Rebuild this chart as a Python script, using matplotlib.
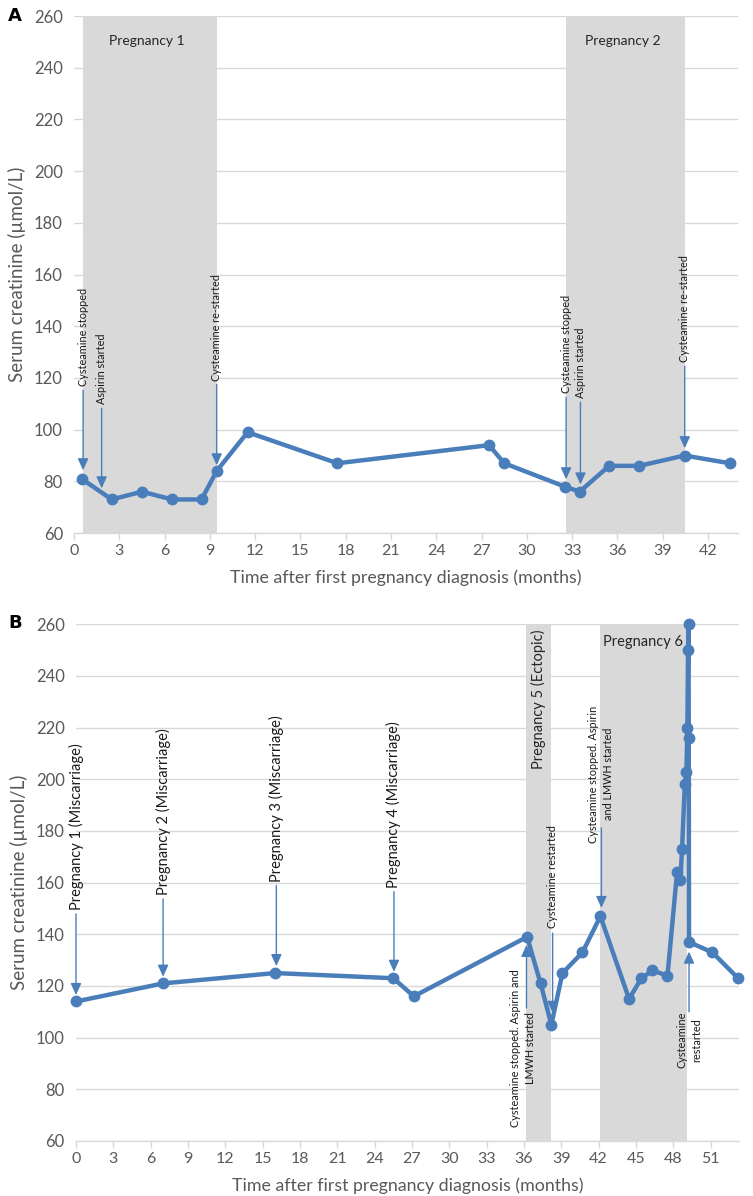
import matplotlib
matplotlib.use("Agg")
import matplotlib.pyplot as plt

plt.rcParams['font.family'] = ['Lato', 'DejaVu Sans']

# ---------------- data ----------------
# Panel A
a_months = [0.5, 2.5, 4.5, 6.5, 8.45, 9.45, 11.5, 17.45, 27.5, 28.5, 32.5, 33.5, 35.45, 37.45, 40.45, 43.45]
a_creat = [81, 73, 76, 73, 73, 84, 99, 87, 94, 87, 78, 76, 86, 86, 90, 87]
a_preg_spans = [(0.6, 9.5), (32.6, 40.5)]
a_preg_labels = ["Pregnancy 1", "Pregnancy 2"]
a_events = ["Cysteamine stopped", "Aspirin started", "Cysteamine re-started",
            "Cysteamine stopped", "Aspirin started", "Cysteamine re-started"]
a_event_x = [0.6, 1.83, 9.45, 32.6, 33.55, 40.46]
a_event_text_y = [116.8, 109.8, 119.0, 114.0, 112.1, 126.0]
a_event_tip_y = [84.3, 77.3, 86.2, 80.8, 78.8, 92.8]
a_xticks = list(range(0, 43, 3))

# Panel B
b_months = [0, 7.0, 16.0, 25.5, 27.15, 36.25, 37.33, 38.2, 39.09, 40.7, 42.14, 44.44, 45.44, 46.32, 47.53,
            48.3, 48.57, 48.7, 48.92, 49.05, 49.13, 49.18, 49.22, 49.24, 49.26, 51.14, 53.2]
b_creat = [114, 121, 125, 123, 116, 139, 121, 105, 125, 133, 147, 115, 123, 126, 124,
           164, 161, 173, 198, 203, 220, 250, 260, 216, 137, 133, 123]
b_preg_spans = [(36.17, 38.17), (42.13, 49.1)]
b_miscarriages = ["Pregnancy 1 (Miscarriage)", "Pregnancy 2 (Miscarriage)",
                  "Pregnancy 3 (Miscarriage)", "Pregnancy 4 (Miscarriage)"]
b_misc_x = [0.0, 7.0, 16.1, 25.55]
b_misc_text_y = [149.4, 155.2, 160.4, 158.0]
b_misc_tip_y = [116.5, 123.6, 127.7, 125.5]
b_xticks = list(range(0, 52, 3))

yticks = list(range(60, 261, 20))

# ---------------- style ----------------
LINE = '#4a7ebb'
SHADE = '#d9d9d9'
GRID = '#d9d9d9'
TICK = '#595959'
SMALL = 7.8

fig = plt.figure(figsize=(7.53, 11.96), dpi=100)
axA = fig.add_axes([0.0983, 0.5543, 0.8820, 0.4323])
axB = fig.add_axes([0.1009, 0.0460, 0.8809, 0.4320])


def style(ax, xmax, xticks):
    ax.set_xlim(0, xmax)
    ax.set_ylim(60, 260)
    ax.set_yticks(yticks)
    ax.set_xticks(xticks)
    ax.yaxis.grid(True, color=GRID, lw=1.0, zorder=0)
    ax.set_axisbelow(True)
    for s in ['left', 'right', 'top']:
        ax.spines[s].set_visible(False)
    ax.spines['bottom'].set_color(GRID)
    ax.spines['bottom'].set_linewidth(1.0)
    ax.tick_params(axis='y', length=0, labelsize=12, labelcolor=TICK, pad=8)
    ax.tick_params(axis='x', length=5, color=GRID, width=1, direction='out',
                   labelsize=11.5, labelcolor=TICK, pad=3)
    ax.set_ylabel("Serum creatinine (µmol/L)", fontsize=13.5, color=TICK, labelpad=6)
    ax.set_xlabel("Time after first pregnancy diagnosis (months)", fontsize=12.8,
                  color=TICK, labelpad=8)


def arrow(ax, x, y0, y1):
    ax.annotate('', xy=(x, y1), xytext=(x, y0),
                arrowprops=dict(arrowstyle='-|>,head_width=0.32,head_length=0.7',
                                color=LINE, lw=1.0, shrinkA=0, shrinkB=0),
                zorder=4)


# ---------------- Panel A ----------------
style(axA, 44, a_xticks)
for (s, e), lab in zip(a_preg_spans, a_preg_labels):
    axA.axvspan(s, e, color=SHADE, lw=0, zorder=1)
    axA.text((s + e) / 2 - 0.2, 250.3, lab, ha='center', va='center', fontsize=10,
             color='#262626', zorder=4)
axA.plot(a_months, a_creat, color=LINE, lw=3.2, marker='o', ms=7.5, zorder=3, clip_on=False)
for t, x, ty, tip in zip(a_events, a_event_x, a_event_text_y, a_event_tip_y):
    axA.text(x, ty, t, rotation=90, ha='center', va='bottom', fontsize=SMALL,
             color='#1a1a1a', zorder=4)
    arrow(axA, x, ty - 1.5, tip)

# ---------------- Panel B ----------------
style(axB, 53.3, b_xticks)
for s, e in b_preg_spans:
    axB.axvspan(s, e, color=SHADE, lw=0, zorder=1)
axB.text(37.2, 231, "Pregnancy 5 (Ectopic)", rotation=90, ha='center', va='center',
         fontsize=10.5, color='#262626', zorder=4)
axB.text(45.6, 253, "Pregnancy 6", ha='center', va='center', fontsize=10.5,
         color='#262626', zorder=4)
axB.plot(b_months, b_creat, color=LINE, lw=3.2, marker='o', ms=7.5, zorder=3, clip_on=False)

for t, x, ty, tip in zip(b_miscarriages, b_misc_x, b_misc_text_y, b_misc_tip_y):
    axB.text(x, ty, t, rotation=90, ha='center', va='bottom', fontsize=10.5,
             color='#1a1a1a', zorder=4, clip_on=False)
    arrow(axB, x, ty - 1.5, tip)

# Cysteamine restarted (pregnancy 5)
axB.text(38.3, 142.3, "Cysteamine restarted", rotation=90, ha='center', va='bottom',
         fontsize=SMALL, color='#1a1a1a', zorder=4)
arrow(axB, 38.3, 140.5, 109.6)

# Cysteamine stopped (pregnancy 5) - arrow pointing up
axB.text(35.93, 96, "Cysteamine stopped. Aspirin and\nLMWH started", rotation=90,
         ha='center', va='center', multialignment='center', fontsize=SMALL,
         linespacing=1.5, color='#1a1a1a', zorder=4)
arrow(axB, 36.2, 111.5, 135.9)

# Cysteamine stopped (pregnancy 6)
axB.text(42.2, 202, "Cysteamine stopped. Aspirin\nand LMWH started", rotation=90,
         ha='center', va='center', multialignment='center', fontsize=SMALL,
         linespacing=1.4, color='#1a1a1a', zorder=4)
arrow(axB, 42.22, 181.2, 150.2)

# Cysteamine restarted (pregnancy 6) - arrow up
axB.text(49.28, 99.1, "Cysteamine\nrestarted", rotation=90, ha='center', va='center',
         multialignment='center', fontsize=SMALL, linespacing=1.5, color='#1a1a1a', zorder=4)
arrow(axB, 49.26, 110, 133.3)

# panel letters
fig.text(8 / 753, 1 - 16 / 1196, "A", fontsize=13, fontweight='bold',
         family='DejaVu Sans', va='center', ha='left')
fig.text(8 / 753, 1 - 623 / 1196, "B", fontsize=13, fontweight='bold',
         family='DejaVu Sans', va='center', ha='left')

fig.savefig("out.png", dpi=100)
